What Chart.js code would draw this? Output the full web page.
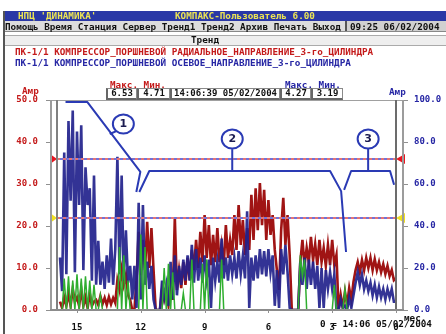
<!DOCTYPE html>
<html>
<head>
<meta charset="utf-8">
<script src="https://cdn.jsdelivr.net/npm/chart.js@4.4.0/dist/chart.umd.min.js"></script>
<style>
body{margin:0;width:446px;height:334px;overflow:hidden;background:#fff;position:relative}
#c{position:absolute;left:0;top:0}
.t{position:absolute;font:bold 9.3px "DejaVu Sans Mono",monospace;white-space:pre;line-height:10px;height:10px}
.box{position:absolute;top:88px;height:9px;border:1px solid #8a8a8a;border-left:2px solid #666;border-bottom:2px solid #666;background:#fff;font:bold 9px "DejaVu Sans Mono",monospace;line-height:9px;text-align:center;color:#111}
</style>
</head>
<body>
<canvas id="c" width="446" height="334"></canvas>

<!-- окно программы -->
<div style="position:absolute;left:3px;top:11px;width:2px;height:323px;background:#555"></div>
<div style="position:absolute;left:5px;top:11px;width:441px;height:10px;background:#2a38a6"></div>
<div class="t" style="left:18px;top:11px;color:#ece454">НПЦ 'ДИНАМИКА'</div>
<div class="t" style="left:175px;top:11px;color:#ece454">КОМПАКС-Пользователь 6.00</div>
<div style="position:absolute;left:5px;top:21px;width:441px;height:10px;background:#dcdcdc;border-bottom:1px solid #888"></div>
<div class="t" style="left:5px;top:22px;color:#111">Помощь Время Станция Сервер Тренд1 Тренд2 Архив Печать Выход</div>
<div style="position:absolute;left:345px;top:21px;width:101px;height:10px;background:#d0d0d0;border-left:2px solid #555"></div>
<div class="t" style="left:350px;top:22px;color:#111">09:25 06/02/2004</div>
<div style="position:absolute;left:5px;top:35px;width:441px;height:9px;background:#eeeeee;border-top:1px solid #aaa;border-bottom:1px solid #aaa"></div>
<div class="t" style="left:191px;top:35px;color:#111">Тренд</div>

<div class="t" style="left:15px;top:47px;color:#c41a1a">ПК-1/1 КОМПРЕССОР_ПОРШНЕВОЙ РАДИАЛЬНОЕ_НАПРАВЛЕНИЕ_3-го_ЦИЛИНДРА</div>
<div class="t" style="left:15px;top:58px;color:#2626a4">ПК-1/1 КОМПРЕССОР_ПОРШНЕВОЙ ОСЕВОЕ_НАПРАВЛЕНИЕ_3-го_ЦИЛИНДРА</div>

<div class="t" style="left:110px;top:80px;color:#c41a1a">Макс. Мин.</div>
<div class="t" style="left:285px;top:80px;color:#2626a4">Макс. Мин.</div>
<div class="box" style="left:106px;width:28px">6.53</div>
<div class="box" style="left:137px;width:30px">4.71</div>
<div class="box" style="left:170px;width:107px">14:06:39 05/02/2004</div>
<div class="box" style="left:280px;width:28px">4.27</div>
<div class="box" style="left:311px;width:29px">3.19</div>

<div class="t" style="left:22px;top:86px;color:#c41a1a">Амр</div>
<div class="t" style="left:389px;top:87px;color:#2626a4">Амр</div>
<div class="t" style="left:404px;top:313px;color:#111">мес.</div>
<div class="t" style="left:320px;top:319px;color:#111">0 = 14:06 05/02/2004</div>

<script>
// === ДАННЫЕ ТРЕНДА (шаг 0.1 мес., от 15.8 до 0 мес.) ===
const startMonth = 15.8;
const step = 0.1;

// радиальное направление, Амр (левая шкала)
const red = [
  2, 0.5, 3, 1, 4, 1, 5, 2, 3, 1,
  5, 1, 3, 0.5, 4, 1, 2, 2.4, 1.2, 3.3,
  1.4, 2.9, 1.2, 3.1, 1.4, 2.9, 1.7, 7.1, 4.8, 9.5,
  6, 8.3, 3.6, 2.4, 0, 0, 7.1, 18.6, 8.3, 16.7,
  9.5, 21, 10, 19.5, 9.5, 0, 0, 0, 4.8, 2.4,
  4.3, 1.2, 6, 2.4, 22, 4.8, 9.5, 5.2, 11.4, 6,
  12.4, 7.1, 14.3, 9.5, 16.7, 10, 18.6, 11.4, 22.6, 12.4,
  20.2, 10.7, 17.9, 11.4, 19.5, 11.4, 15.5, 10.7, 20.2, 12.4,
  16.7, 13.1, 22.6, 14.3, 25, 15.5, 21.4, 13.1, 19.5, 14.3,
  27.4, 16.7, 29, 19, 30.2, 20.2, 28.6, 16.7, 26.2, 17.9,
  22.6, 14.3, 9.5, 4.8, 19, 26.7, 15.5, 22.6, 13.1, 0,
  0, 0, 0, 11.4, 16.7, 10.7, 14.8, 11.4, 17.4, 11.9,
  15.7, 10.7, 16.7, 11.4, 14.8, 10.5, 15.5, 10.7, 16.7, 10.7,
  13.1, 0, 3.6, 0.5, 4.3, 1.2, 5.2, 2.4, 6.7, 9.5,
  11.4, 9, 11.9, 9.5, 12.4, 10, 12.4, 9.5, 12.1, 9.5,
  11.4, 9, 10.9, 8.6, 10.5, 8.1, 9.5, 7.1, 7.6
];

// осевое направление, Амр (правая шкала)
const blue = [
  25, 9, 75, 17, 90, 52, 95, 18, 85, 50,
  88, 19, 68, 50, 58, 14, 64, 12, 33, 12,
  23, 10, 26, 13, 34, 12, 29, 73, 17, 64,
  14, 38, 13, 21, 5, 21, 1, 51, 5, 50,
  12, 23, 10, 21, 5, 0, 0, 0, 14, 6,
  12, 2, 23, 5, 26, 7, 21, 12, 24, 14,
  26, 14, 31, 13, 29, 14, 25, 13, 26, 15,
  24, 1, 25, 14, 23, 13, 34, 15, 25, 14,
  26, 17, 25, 15, 28, 17, 26, 15, 47, 1,
  25, 14, 26, 15, 29, 17, 28, 16, 29, 18,
  26, 2, 19, 1, 29, 17, 31, 18, 1, 0,
  0, 0, 0, 23, 12, 25, 10, 24, 12, 23,
  10, 21, 1, 20, 1, 19, 10, 18, 10, 17,
  0, 0, 5, 1, 2, 0, 6, 1, 7, 13,
  18, 12, 17, 10, 14, 9, 13, 7, 12, 6,
  11, 6, 10, 5, 10, 6, 10, 4, 4
];

// третий канал (зелёный), левая шкала
const green = [
  0, 0, 7.5, 0, 8, 0, 7, 0, 8.5, 0,
  7.5, 0, 8, 0, 7, 0, 6, 0, 0, 3.5,
  0, 0, 0, 0, 0, 0, 0, 0, 15, 0,
  13, 0, 7, 0, 0, 0, 0, 0, 18, 0,
  15, 0, 0, 0, 0, 0, 0, 0, 0, 10,
  0, 11, 0, 9, 0, 0, 0, 0, 4, 0,
  0, 0, 12, 0, 0, 0, 0, 11, 0, 12,
  0, 0, 0, 0, 0, 0, 12, 0, 0, 0,
  0, 0, 0, 0, 0, 0, 0, 0, 0, 0,
  0, 0, 0, 0, 0, 0, 0, 0, 0, 0,
  0, 0, 0, 0, 0, 0, 0, 0, 0, 0,
  0, 0, 0, 13, 8, 12, 0, 0, 0, 0,
  0, 0, 0, 0, 0, 0, 0, 0, 0, 6,
  0, 0, 0, 0, 5, 0, 0, 0, 0, 0,
  0, 0, 0, 0, 0, 0, 0, 0, 0, 0,
  0, 0, 0, 0, 0, 0, 0, 0, 0
];

// уставки: аварийная и предупредительная
const alarmLeft = [36, 22];
const alarmRight = [72, 44];
const alarmColors = ["#e8141e", "#f0e020"];

// выноски 1, 2, 3 (мес., Амр по левой шкале)
const calloutLines = [
  [[15.54, 49.5], [14.51, 49.5], [12.02, 32.9], [12.21, 28.1]],
  [[13.15, 42.6], [13.46, 41.9]],
  [[12.07, 28.1], [11.6, 33.1], [3.1, 33.1], [2.58, 28.3], [2.35, 13.8]],
  [[7.7, 38.3], [7.7, 33.1]],
  [[2.44, 28.6], [2.11, 33.1], [0.28, 33.1], [0.09, 29.8]],
  [[1.31, 38.6], [1.31, 33.1]]
];
const calloutMarks = [["1", 12.82, 44.3], ["2", 7.7, 40.7], ["3", 1.31, 40.7]];

const months = blue.map((_, i) => +(startMonth - i * step).toFixed(2));
const pts = arr => arr.map((v, i) => ({ x: months[i], y: v }));

const monoFont = { family: "DejaVu Sans Mono", size: 9, weight: "bold" };

// === РАМКА, УСТАВКИ, ВЫНОСКИ ===
const decor = {
  id: "decor",
  afterDatasetsDraw(chart) {
    const { ctx, chartArea: a, scales } = chart;
    const { x, yL, yR } = scales;
    ctx.save();

    alarmLeft.forEach((v, k) => {
      const y = Math.round(yL.getPixelForValue(v));
      const yb = Math.round(yR.getPixelForValue(alarmRight[k]));
      ctx.lineWidth = 2;
      ctx.setLineDash([3, 3]);
      ctx.strokeStyle = "#e47474";
      ctx.beginPath(); ctx.moveTo(a.left, y); ctx.lineTo(a.right, y); ctx.stroke();
      ctx.lineDashOffset = 3;
      ctx.strokeStyle = "#7272d8";
      ctx.beginPath(); ctx.moveTo(a.left, yb); ctx.lineTo(a.right, yb); ctx.stroke();
      ctx.lineDashOffset = 0;
      ctx.setLineDash([]);

      ctx.fillStyle = alarmColors[k];
      ctx.beginPath();
      ctx.moveTo(a.left - 7, y - 5); ctx.lineTo(a.left, y); ctx.lineTo(a.left - 7, y + 5);
      ctx.closePath(); ctx.fill();
      ctx.beginPath();
      ctx.moveTo(a.right + 9, yb - 5); ctx.lineTo(a.right, yb); ctx.lineTo(a.right + 9, yb + 5);
      ctx.closePath(); ctx.fill();
    });

    // рамка
    ctx.strokeStyle = "#a0a0a0";
    ctx.lineWidth = 1;
    ctx.beginPath(); ctx.moveTo(a.left - 7, a.top + 0.5); ctx.lineTo(a.right + 8, a.top + 0.5); ctx.stroke();
    ctx.lineWidth = 2;
    ctx.strokeStyle = "#9c9c9c";
    ctx.beginPath(); ctx.moveTo(a.left - 6, a.top); ctx.lineTo(a.left - 6, a.bottom); ctx.stroke();
    ctx.beginPath(); ctx.moveTo(a.right + 7, a.top); ctx.lineTo(a.right + 7, a.bottom); ctx.stroke();
    ctx.strokeStyle = "#808080";
    ctx.beginPath(); ctx.moveTo(a.left, a.top); ctx.lineTo(a.left, a.bottom); ctx.stroke();
    ctx.strokeStyle = "#6c6c6c";
    ctx.beginPath(); ctx.moveTo(a.right, a.top); ctx.lineTo(a.right, a.bottom); ctx.stroke();
    ctx.strokeStyle = "#8c8c8c";
    ctx.beginPath(); ctx.moveTo(a.left - 7, a.bottom); ctx.lineTo(a.right + 8, a.bottom); ctx.stroke();

    // засечки
    ctx.lineWidth = 1;
    ctx.strokeStyle = "#909090";
    yL.ticks.forEach(t => {
      const y = Math.round(yL.getPixelForValue(t.value)) + 0.5;
      ctx.beginPath(); ctx.moveTo(a.left - 11, y); ctx.lineTo(a.left - 7, y); ctx.stroke();
    });
    yR.ticks.forEach(t => {
      const y = Math.round(yR.getPixelForValue(t.value)) + 0.5;
      ctx.beginPath(); ctx.moveTo(a.right + 8, y); ctx.lineTo(a.right + 12, y); ctx.stroke();
    });
    x.ticks.forEach(t => {
      const px = Math.round(x.getPixelForValue(t.value)) + 0.5;
      ctx.beginPath(); ctx.moveTo(px, a.bottom); ctx.lineTo(px, a.bottom + 3); ctx.stroke();
    });
    ctx.restore();
  },
  afterDraw(chart) {
    const { ctx, scales: { x, yL } } = chart;
    ctx.save();
    ctx.strokeStyle = "#2a3ab4";
    ctx.lineWidth = 2;
    ctx.lineJoin = "round";
    calloutLines.forEach(line => {
      ctx.beginPath();
      line.forEach(([m, v], j) => {
        const px = x.getPixelForValue(m), py = yL.getPixelForValue(v);
        if (j === 0) ctx.moveTo(px, py); else ctx.lineTo(px, py);
      });
      ctx.stroke();
    });
    calloutMarks.forEach(([n, m, v]) => {
      const px = x.getPixelForValue(m), py = yL.getPixelForValue(v);
      ctx.beginPath();
      ctx.ellipse(px, py, 10.5, 9.5, 0, 0, Math.PI * 2);
      ctx.fillStyle = "#fff";
      ctx.fill();
      ctx.stroke();
      ctx.fillStyle = "#1c1c50";
      ctx.font = "bold 11px 'DejaVu Sans'";
      ctx.textAlign = "center";
      ctx.textBaseline = "middle";
      ctx.fillText(n, px, py + 0.5);
    });
    ctx.restore();
  }
};

new Chart(document.getElementById("c"), {
  type: "line",
  data: {
    datasets: [
      { label: "green", data: pts(green), yAxisID: "yL", borderColor: "#2fae2f", borderWidth: 1.5, pointRadius: 0, order: 0 },
      { label: "blue", data: pts(blue), yAxisID: "yR", borderColor: "rgba(34,34,140,0.92)", borderWidth: 2.6, pointRadius: 0, order: 1 },
      { label: "red", data: pts(red), yAxisID: "yL", borderColor: "#a01414", borderWidth: 2.6, pointRadius: 0, order: 2 }
    ]
  },
  options: {
    responsive: false,
    animation: false,
    layout: { padding: { top: 100 } },
    plugins: { legend: { display: false }, tooltip: { enabled: false } },
    scales: {
      x: {
        type: "linear", reverse: true, min: 0, max: 15.94,
        grid: { display: false }, border: { display: false },
        ticks: { stepSize: 3, includeBounds: false, color: "#111", padding: 4, font: monoFont },
        afterFit: s => { s.height = 24; }
      },
      yL: {
        position: "left", min: 0, max: 50,
        grid: { display: false }, border: { display: false },
        ticks: { stepSize: 10, color: "#c41a1a", padding: 11, font: monoFont, callback: v => v.toFixed(1) },
        afterFit: s => { s.width = 57; }
      },
      yR: {
        position: "right", min: 0, max: 100,
        grid: { display: false }, border: { display: false },
        ticks: { stepSize: 20, color: "#2626a4", padding: 10, font: monoFont, callback: v => v.toFixed(1) },
        afterFit: s => { s.width = 50; }
      }
    }
  },
  plugins: [decor]
});
</script>
</body>
</html>
